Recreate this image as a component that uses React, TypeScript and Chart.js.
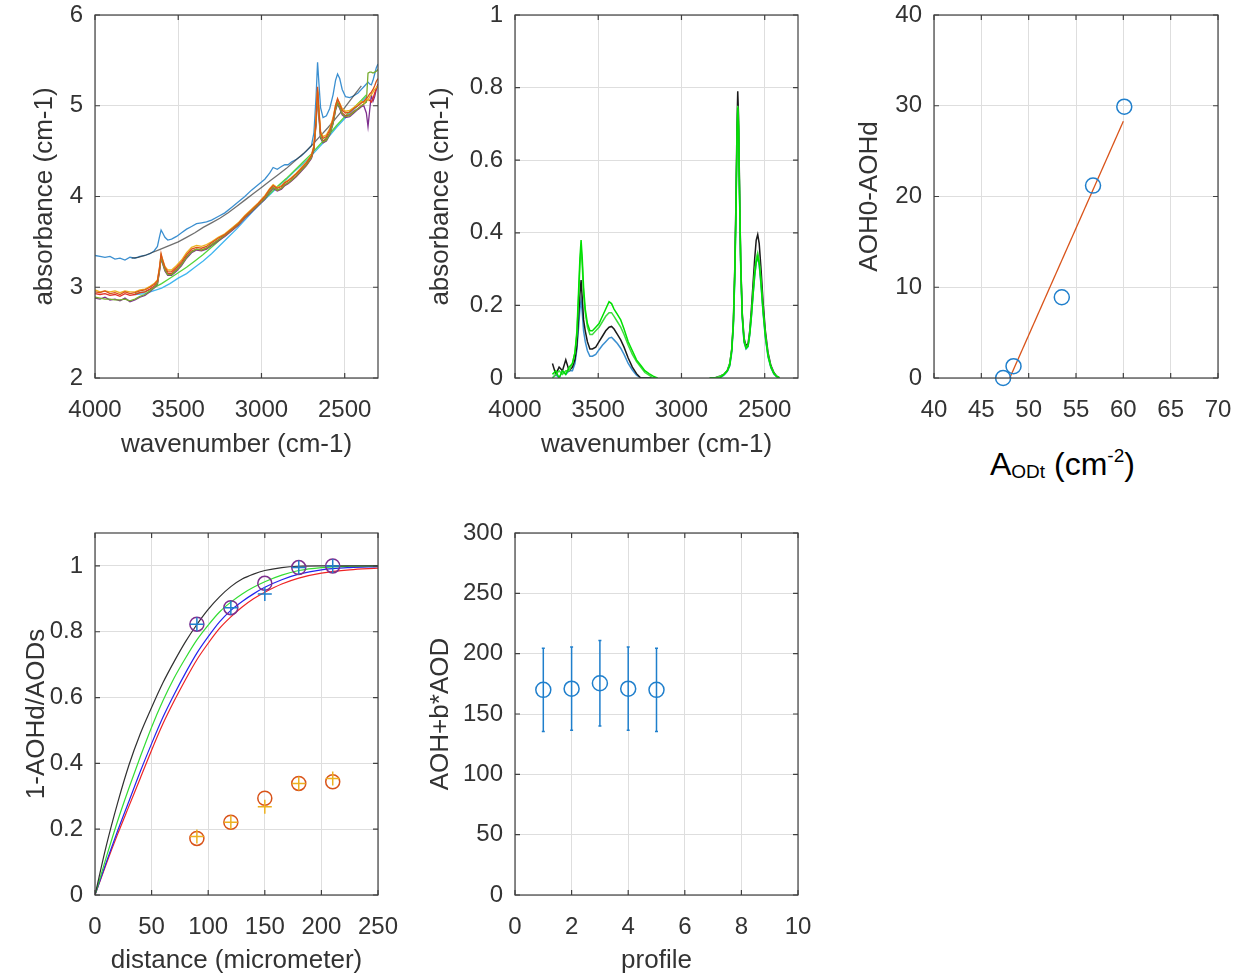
import React, { useEffect, useRef } from 'react';
import { Chart, registerables } from 'chart.js';

Chart.register(...registerables);

// ================= Panel 1: raw spectra =================
const wavenumbers = [4000, 3970, 3940, 3910, 3880, 3850, 3820, 3790, 3760, 3730,
  3700, 3670, 3645, 3625, 3612, 3603, 3594, 3580, 3563, 3540,
  3510, 3480, 3450, 3420, 3390, 3360, 3330, 3300, 3260, 3220,
  3180, 3140, 3100, 3060, 3020, 2980, 2950, 2930, 2905, 2880,
  2860, 2840, 2820, 2790, 2760, 2730, 2700, 2685, 2672, 2663,
  2655, 2645, 2630, 2610, 2590, 2570, 2555, 2543, 2530, 2515,
  2495, 2470, 2445, 2420, 2400, 2385, 2370, 2360, 2350, 2340,
  2330, 2320, 2310, 2300];

const absBlue = [3.35, 3.34, 3.33, 3.34, 3.31, 3.32, 3.30, 3.33, 3.32, 3.34,
  3.35, 3.37, 3.40, 3.45, 3.56, 3.63, 3.60, 3.55, 3.52, 3.53,
  3.56, 3.60, 3.64, 3.67, 3.70, 3.71, 3.72, 3.74, 3.78, 3.82,
  3.88, 3.94, 4.00, 4.07, 4.13, 4.19, 4.26, 4.32, 4.30, 4.33,
  4.35, 4.35, 4.38, 4.41, 4.45, 4.50, 4.56, 4.70, 5.10, 5.48,
  5.25, 4.98, 4.87, 4.89, 4.97, 5.12, 5.28, 5.35, 5.30, 5.18,
  5.10, 5.09, 5.11, 5.14, 5.18, 5.21, 5.24, 5.26, 5.24, 5.23,
  5.28, 5.35, 5.42, 5.46];

const absOrange = [2.95, 2.94, 2.96, 2.93, 2.94, 2.92, 2.95, 2.93, 2.94, 2.96,
  2.97, 3.00, 3.03, 3.07, 3.22, 3.37, 3.30, 3.22, 3.17, 3.17,
  3.22, 3.28, 3.36, 3.42, 3.44, 3.43, 3.45, 3.49, 3.54, 3.58,
  3.64, 3.70, 3.78, 3.85, 3.92, 4.00, 4.08, 4.12, 4.09, 4.11,
  4.15, 4.17, 4.20, 4.25, 4.31, 4.37, 4.45, 4.55, 4.85, 5.21,
  4.95, 4.70, 4.64, 4.66, 4.73, 4.85, 5.00, 5.08, 5.02, 4.95,
  4.92, 4.93, 4.97, 5.00, 5.03, 5.05, 5.08, 5.10, 5.13, 5.15,
  5.18, 5.22, 5.27, 5.30];

const absYellow = [2.97, 2.95, 2.96, 2.95, 2.96, 2.94, 2.96, 2.95, 2.95, 2.97,
  2.98, 3.01, 3.04, 3.08, 3.23, 3.36, 3.31, 3.23, 3.19, 3.19,
  3.24, 3.30, 3.38, 3.44, 3.46, 3.45, 3.47, 3.50, 3.55, 3.59,
  3.65, 3.71, 3.79, 3.86, 3.93, 4.01, 4.09, 4.13, 4.10, 4.12,
  4.16, 4.18, 4.21, 4.26, 4.32, 4.38, 4.46, 4.56, 4.88, 5.18,
  4.97, 4.72, 4.66, 4.68, 4.75, 4.87, 5.01, 5.07, 5.03, 4.97,
  4.94, 4.95, 4.98, 5.02, 5.05, 5.03, 5.08, 5.06, 5.10, 5.12,
  5.15, 5.18, 5.20, 5.22];

const absRed = [2.93, 2.92, 2.93, 2.91, 2.92, 2.90, 2.93, 2.91, 2.92, 2.94,
  2.95, 2.98, 3.01, 3.05, 3.20, 3.34, 3.28, 3.20, 3.15, 3.15,
  3.20, 3.26, 3.34, 3.40, 3.42, 3.41, 3.43, 3.47, 3.52, 3.57,
  3.63, 3.69, 3.77, 3.84, 3.91, 3.98, 4.06, 4.10, 4.07, 4.09,
  4.13, 4.15, 4.18, 4.23, 4.29, 4.35, 4.43, 4.53, 4.83, 5.16,
  4.92, 4.67, 4.61, 4.63, 4.70, 4.82, 4.97, 5.04, 4.99, 4.92,
  4.89, 4.90, 4.94, 4.97, 5.00, 5.02, 5.05, 5.07, 5.06, 5.04,
  5.08, 5.14, 5.19, 5.23];

const absPurple = [2.88, 2.87, 2.89, 2.86, 2.87, 2.85, 2.88, 2.84, 2.86, 2.89,
  2.91, 2.95, 2.99, 3.03, 3.18, 3.32, 3.26, 3.18, 3.13, 3.13,
  3.18, 3.24, 3.32, 3.38, 3.41, 3.40, 3.42, 3.46, 3.51, 3.56,
  3.62, 3.68, 3.76, 3.83, 3.90, 3.97, 4.05, 4.09, 4.06, 4.08,
  4.12, 4.14, 4.17, 4.22, 4.28, 4.34, 4.42, 4.52, 4.80, 5.12,
  4.88, 4.64, 4.59, 4.61, 4.68, 4.80, 4.95, 5.02, 4.97, 4.90,
  4.87, 4.88, 4.92, 4.96, 4.99, 5.00, 4.92, 4.77, 4.95, 5.12,
  5.05, 5.10, 5.18, 5.24];

const absOlive = [2.89, 2.88, 2.87, 2.87, 2.86, 2.86, 2.87, 2.85, 2.87, 2.90,
  2.92, 2.96, 3.00, 3.04, 3.19, 3.33, 3.27, 3.19, 3.14, 3.14,
  3.19, 3.25, 3.33, 3.39, 3.42, 3.41, 3.43, 3.47, 3.52, 3.57,
  3.63, 3.69, 3.77, 3.84, 3.91, 3.98, 4.06, 4.10, 4.07, 4.09,
  4.13, 4.15, 4.18, 4.23, 4.29, 4.35, 4.43, 4.53, 4.82, 5.15,
  4.90, 4.66, 4.60, 4.62, 4.69, 4.81, 4.96, 5.03, 4.98, 4.91,
  4.88, 4.89, 4.93, 4.97, 5.00, 5.02, 5.04, 5.36, 5.37, 5.37,
  5.36, 5.37, 5.38, 5.40];

const wnGrayBase = [3780, 3740, 3700, 3660, 3620, 3580, 3540, 3500, 3450, 3400,
  3350, 3300, 3250, 3200, 3150, 3100, 3050, 3000, 2950, 2900,
  2850, 2800, 2750, 2700, 2650, 2600, 2550, 2500, 2450, 2400];
const absGrayBase = [3.32, 3.33, 3.35, 3.38, 3.41, 3.44, 3.47, 3.50, 3.55, 3.60,
  3.66, 3.71, 3.76, 3.82, 3.89, 3.96, 4.03, 4.10, 4.17, 4.24,
  4.31, 4.39, 4.47, 4.56, 4.66, 4.76, 4.87, 4.98, 5.10, 5.22];

const wnBase = [3760, 3700, 3650, 3600, 3550, 3500, 3450, 3400, 3350, 3300,
  3250, 3200, 3150, 3100, 3050, 3000, 2950, 2900, 2850, 2800,
  2750, 2700, 2650, 2600, 2550, 2500, 2450, 2400, 2370];
const absBaseCyan = [2.92, 2.93, 2.96, 2.99, 3.04, 3.10, 3.15, 3.22, 3.29, 3.37,
  3.46, 3.55, 3.64, 3.74, 3.84, 3.93, 4.02, 4.11, 4.19, 4.28,
  4.36, 4.45, 4.55, 4.65, 4.76, 4.86, 4.95, 5.04, 5.10];
const absBaseGreen = [2.93, 2.95, 2.99, 3.04, 3.10, 3.16, 3.22, 3.29, 3.36, 3.44,
  3.52, 3.61, 3.69, 3.77, 3.85, 3.94, 4.03, 4.12, 4.20, 4.29,
  4.38, 4.47, 4.57, 4.67, 4.78, 4.88, 4.97, 5.06, 5.12];

const wnTicks = [4000, 3500, 3000, 2500];
const absTicks = [2, 3, 4, 5, 6];

// ================= Panel 2: baseline-corrected spectra =================
const wnDiffLeft = [3775, 3755, 3735, 3715, 3695, 3675, 3655, 3640, 3628, 3618,
  3610, 3603, 3596, 3588, 3578, 3565, 3550, 3535, 3515, 3495,
  3475, 3455, 3435, 3420, 3405, 3385, 3365, 3345, 3320, 3295,
  3270, 3245, 3220, 3195, 3170, 3145];
const wnDiffRight = [2830, 2800, 2770, 2745, 2725, 2710, 2698, 2688, 2680, 2673,
  2667, 2662, 2657, 2651, 2644, 2635, 2624, 2612, 2600, 2590,
  2580, 2570, 2560, 2551, 2542, 2533, 2522, 2510, 2496, 2480,
  2463, 2445, 2428, 2410];

const diffGreenL = [0.01, 0.02, 0.00, 0.02, 0.01, 0.03, 0.04, 0.07, 0.13, 0.24,
  0.33, 0.38, 0.33, 0.25, 0.19, 0.15, 0.13, 0.13, 0.14, 0.15,
  0.17, 0.19, 0.21, 0.205, 0.19, 0.175, 0.16, 0.135, 0.10, 0.075,
  0.05, 0.035, 0.02, 0.012, 0.005, 0.0];
const diffGreenR = [0.0, 0.0, 0.0, 0.01, 0.02, 0.035, 0.075, 0.15, 0.28, 0.45,
  0.64, 0.745, 0.69, 0.50, 0.31, 0.17, 0.10, 0.082, 0.088, 0.12,
  0.17, 0.23, 0.285, 0.32, 0.334, 0.315, 0.26, 0.185, 0.115, 0.06,
  0.03, 0.012, 0.004, 0.0];

const diffLimeL = [0.00, 0.01, 0.02, 0.01, 0.02, 0.02, 0.04, 0.07, 0.12, 0.22,
  0.31, 0.36, 0.31, 0.23, 0.18, 0.14, 0.12, 0.12, 0.13, 0.14,
  0.155, 0.17, 0.18, 0.18, 0.17, 0.155, 0.14, 0.12, 0.09, 0.065,
  0.045, 0.03, 0.015, 0.008, 0.0, 0.0];
const diffLimeR = [0.0, 0.0, 0.005, 0.01, 0.02, 0.04, 0.078, 0.155, 0.29, 0.46,
  0.65, 0.75, 0.70, 0.51, 0.315, 0.175, 0.105, 0.085, 0.09, 0.125,
  0.175, 0.24, 0.295, 0.33, 0.345, 0.325, 0.27, 0.19, 0.12, 0.065,
  0.032, 0.014, 0.005, 0.0];

const diffBlackL = [0.04, 0.01, 0.03, 0.02, 0.05, 0.02, 0.03, 0.05, 0.09, 0.17,
  0.23, 0.27, 0.22, 0.16, 0.13, 0.10, 0.08, 0.08, 0.085, 0.10,
  0.115, 0.13, 0.14, 0.142, 0.135, 0.12, 0.105, 0.085, 0.055, 0.03,
  0.012, 0.0, 0.0, 0.0, 0.0, 0.0];
const diffBlackR = [0.0, 0.0, 0.005, 0.01, 0.02, 0.04, 0.08, 0.16, 0.30, 0.48,
  0.68, 0.79, 0.72, 0.52, 0.32, 0.18, 0.11, 0.088, 0.095, 0.13,
  0.19, 0.26, 0.33, 0.38, 0.395, 0.37, 0.30, 0.21, 0.13, 0.07,
  0.035, 0.015, 0.005, 0.0];

const diffBlueL = [0.00, 0.01, 0.00, 0.02, 0.01, 0.02, 0.02, 0.04, 0.08, 0.14,
  0.19, 0.215, 0.18, 0.13, 0.10, 0.075, 0.06, 0.06, 0.065, 0.078,
  0.09, 0.10, 0.11, 0.112, 0.105, 0.095, 0.082, 0.065, 0.04, 0.022,
  0.008, 0.0, 0.0, 0.0, 0.0, 0.0];
const diffBlueR = [0.0, 0.0, 0.0, 0.008, 0.018, 0.033, 0.07, 0.145, 0.27, 0.44,
  0.63, 0.735, 0.68, 0.49, 0.30, 0.165, 0.098, 0.08, 0.086, 0.118,
  0.168, 0.228, 0.28, 0.318, 0.33, 0.31, 0.255, 0.18, 0.11, 0.058,
  0.028, 0.011, 0.003, 0.0];

const diffTicks = [0, 0.2, 0.4, 0.6, 0.8, 1];

// ================= Panel 3: linear fit =================
const aodt = [47.3, 48.4, 53.5, 56.8, 60.1];
const aohDiff = [0, 1.3, 8.9, 21.2, 29.9];
const fitAodt = [48.0, 60.0];
const fitAoh = [0, 28.3];
const aodtTicks = [40, 45, 50, 55, 60, 65, 70];
const aohDiffTicks = [0, 10, 20, 30, 40];

// ================= Panel 4: profiles vs distance =================
const distGrid = [0, 10, 20, 30, 40, 50, 60, 70, 80, 90, 100, 110, 120, 130, 140, 150, 165, 180, 200, 225, 250];
const fitBlack = [0, 0.15, 0.28, 0.395, 0.49, 0.57, 0.645, 0.71, 0.77, 0.822, 0.868, 0.906, 0.937, 0.96, 0.975, 0.986, 0.995, 0.999, 1.0, 1.0, 1.0];
const fitGreen = [0, 0.115, 0.225, 0.325, 0.42, 0.51, 0.59, 0.66, 0.72, 0.775, 0.82, 0.86, 0.89, 0.915, 0.935, 0.952, 0.972, 0.986, 0.995, 0.999, 1.0];
const fitBlue = [0, 0.1, 0.195, 0.285, 0.375, 0.46, 0.54, 0.61, 0.675, 0.735, 0.785, 0.83, 0.865, 0.892, 0.915, 0.935, 0.958, 0.975, 0.988, 0.995, 0.998];
const fitRed = [0, 0.095, 0.185, 0.27, 0.355, 0.44, 0.52, 0.59, 0.655, 0.715, 0.765, 0.81, 0.845, 0.875, 0.9, 0.92, 0.945, 0.963, 0.978, 0.988, 0.993];

const measDist = [90, 120, 150, 180, 210];
const purpleCircles = [0.823, 0.873, 0.947, 0.995, 1.0];
const blueCrosses = [0.823, 0.873, 0.915, 0.995, 1.0];
const orangeCircles = [0.172, 0.221, 0.294, 0.339, 0.344];
const yellowCrosses = [0.178, 0.221, 0.268, 0.339, 0.354];
const distTicks = [0, 50, 100, 150, 200, 250];
const ratioTicks = [0, 0.2, 0.4, 0.6, 0.8, 1];

// ================= Panel 5: per profile =================
const profileIdx = [1, 2, 3, 4, 5];
const profileMean = [170, 171, 175.5, 171, 170];
const profileErr = [34.5, 34.5, 35.5, 34.5, 34.5];
const profileTicks = [0, 2, 4, 6, 8, 10];
const sumTicks = [0, 50, 100, 150, 200, 250, 300];

// ================= styling =================
const FONT = "'Liberation Sans', Arial, Helvetica, sans-serif";
const TEXT_COLOR = '#333333';
const GRID_COLOR = '#dedede';
const BOX_COLOR = '#404040';
const TICK_SIZE = 24;
const TITLE_SIZE = 26;
const TITLE_LH = TITLE_SIZE * 1.2;
const M_BLUE = '#1f7fcc';
const M_ORANGE = '#D95319';
const M_YELLOW = '#EDB120';
const M_PURPLE = '#7E2F8E';

type Box = { left: number; top: number; width: number; height: number };
type Plot = { left: number; top: number; right: number; bottom: number };
type AxisSpec = { min: number; max: number; ticks: number[]; reverse?: boolean; title?: string; titleAt?: number };

function pts(xs: number[], ys: (number | null)[]) {
  const n = Math.min(xs.length, ys.length);
  const out: { x: number; y: number | null }[] = [];
  for (let i = 0; i < n; i++) out.push({ x: xs[i], y: ys[i] });
  return out;
}

function axis(spec: AxisSpec, isX: boolean, canvas: Box, plot: Plot) {
  const o: any = {
    type: 'linear',
    position: isX ? 'bottom' : 'left',
    min: spec.min,
    max: spec.max,
    reverse: !!spec.reverse,
    grid: { color: GRID_COLOR, lineWidth: 1, drawTicks: false, tickLength: 0 },
    border: { display: false },
    ticks: {
      autoSkip: false,
      maxRotation: 0,
      minRotation: 0,
      color: TEXT_COLOR,
      font: { family: FONT, size: TICK_SIZE },
      padding: isX ? 18 : 12,
      callback: (v: number) => String(Math.round(v * 1000) / 1000),
    },
    afterBuildTicks: (s: any) => {
      s.ticks = spec.ticks.map((v) => ({ value: v }));
    },
    afterFit: (s: any) => {
      if (isX) s.height = canvas.top + canvas.height - plot.bottom;
      else s.width = plot.left - canvas.left;
      s.paddingTop = 0;
      s.paddingBottom = 0;
      s.paddingLeft = 0;
      s.paddingRight = 0;
    },
  };
  if (spec.title) {
    const pad = isX
      ? canvas.top + canvas.height - TITLE_LH / 2 - (spec.titleAt as number)
      : (spec.titleAt as number) - canvas.left - TITLE_LH / 2;
    o.title = {
      display: true,
      text: spec.title,
      color: TEXT_COLOR,
      font: { family: FONT, size: TITLE_SIZE, lineHeight: 1.2 },
      padding: isX ? { top: 0, bottom: pad } : { top: pad, bottom: 0 },
    };
  }
  return o;
}

const boxPlugin = {
  id: 'matlabBox',
  afterDatasetsDraw(chart: any) {
    const { ctx, chartArea, scales } = chart;
    const { left, right, top, bottom } = chartArea;
    ctx.save();
    ctx.strokeStyle = BOX_COLOR;
    ctx.lineWidth = 1.2;
    ctx.strokeRect(left, top, right - left, bottom - top);
    const L = 5;
    ctx.beginPath();
    scales.x.ticks.forEach((t: any) => {
      const px = scales.x.getPixelForValue(t.value);
      ctx.moveTo(px, bottom);
      ctx.lineTo(px, bottom - L);
      ctx.moveTo(px, top);
      ctx.lineTo(px, top + L);
    });
    scales.y.ticks.forEach((t: any) => {
      const py = scales.y.getPixelForValue(t.value);
      ctx.moveTo(left, py);
      ctx.lineTo(left + L, py);
      ctx.moveTo(right, py);
      ctx.lineTo(right - L, py);
    });
    ctx.stroke();
    ctx.restore();
  },
};

const errorBarPlugin = {
  id: 'errorBars',
  beforeDatasetsDraw(chart: any) {
    const { ctx, scales } = chart;
    ctx.save();
    ctx.strokeStyle = M_BLUE;
    ctx.lineWidth = 1.5;
    ctx.beginPath();
    profileIdx.forEach((p, i) => {
      const px = scales.x.getPixelForValue(p);
      const top = scales.y.getPixelForValue(profileMean[i] + profileErr[i]);
      const bot = scales.y.getPixelForValue(profileMean[i] - profileErr[i]);
      ctx.moveTo(px, top);
      ctx.lineTo(px, bot);
      ctx.moveTo(px - 1.5, top);
      ctx.lineTo(px + 1.5, top);
      ctx.moveTo(px - 1.5, bot);
      ctx.lineTo(px + 1.5, bot);
    });
    ctx.stroke();
    ctx.restore();
  },
};

function lineDs(data: any[], color: string, width = 1.3, extra: any = {}) {
  return {
    data,
    showLine: true,
    borderColor: color,
    backgroundColor: color,
    borderWidth: width,
    pointRadius: 0,
    tension: 0,
    spanGaps: false,
    ...extra,
  };
}

function markerDs(data: any[], color: string, style: string, radius = 7) {
  return {
    data,
    showLine: false,
    pointStyle: style,
    pointRadius: radius,
    pointBorderColor: color,
    pointBackgroundColor: 'rgba(0,0,0,0)',
    pointBorderWidth: 1.5,
    borderColor: color,
    backgroundColor: 'rgba(0,0,0,0)',
    clip: false,
  };
}

function makeConfig(canvas: Box, plot: Plot, x: AxisSpec, y: AxisSpec, datasets: any[], extraPlugins: any[] = []) {
  return {
    type: 'scatter',
    data: { datasets },
    options: {
      animation: false,
      responsive: false,
      devicePixelRatio: 1,
      events: [],
      layout: {
        padding: {
          left: 0,
          bottom: 0,
          top: plot.top - canvas.top,
          right: canvas.left + canvas.width - plot.right,
        },
      },
      plugins: { legend: { display: false }, tooltip: { enabled: false }, title: { display: false } },
      scales: { x: axis(x, true, canvas, plot), y: axis(y, false, canvas, plot) },
    },
    plugins: [boxPlugin, ...extraPlugins],
  };
}

function joinGap(xl: number[], yl: number[], xr: number[], yr: number[]) {
  return [...pts(xl, yl), { x: 3000, y: null }, ...pts(xr, yr)];
}

type PanelDef = { canvas: Box; build: () => any };

const PANELS: PanelDef[] = [
  {
    canvas: { left: 0, top: 0, width: 400, height: 480 },
    build() {
      const c = this.canvas;
      const p = { left: 95, top: 15, right: 378, bottom: 378 };
      return makeConfig(c, p,
        { min: 2300, max: 4000, ticks: wnTicks, reverse: true, title: 'wavenumber (cm-1)', titleAt: 445 },
        { min: 2, max: 6, ticks: absTicks, title: 'absorbance (cm-1)', titleAt: 45 },
        [
          lineDs(pts(wavenumbers, absOrange), M_ORANGE),
          lineDs(pts(wavenumbers, absYellow), M_YELLOW),
          lineDs(pts(wavenumbers, absOlive), '#77AC30'),
          lineDs(pts(wavenumbers, absRed), '#E0302A'),
          lineDs(pts(wavenumbers, absPurple), M_PURPLE),
          lineDs(pts(wnGrayBase, absGrayBase), 'rgba(50,50,50,0.7)'),
          lineDs(pts(wavenumbers, absBlue), '#3b8fd0'),
          lineDs(pts(wnBase, absBaseGreen), '#55d43a'),
          lineDs(pts(wnBase, absBaseCyan), '#3fb6f0'),
        ]);
    },
  },
  {
    canvas: { left: 420, top: 0, width: 400, height: 480 },
    build() {
      const c = this.canvas;
      const p = { left: 515, top: 15, right: 798, bottom: 378 };
      return makeConfig(c, p,
        { min: 2300, max: 4000, ticks: wnTicks, reverse: true, title: 'wavenumber (cm-1)', titleAt: 445 },
        { min: 0, max: 1, ticks: diffTicks, title: 'absorbance (cm-1)', titleAt: 441 },
        [
          lineDs(joinGap(wnDiffLeft, diffGreenL, wnDiffRight, diffGreenR), '#00e000', 1.5),
          lineDs(joinGap(wnDiffLeft, diffLimeL, wnDiffRight, diffLimeR), '#3ddc3d', 1.5),
          lineDs(joinGap(wnDiffLeft, diffBlackL, wnDiffRight, diffBlackR), '#1a1a1a', 1.5),
          lineDs(joinGap(wnDiffLeft, diffBlueL, wnDiffRight, diffBlueR), '#3b8fd0', 1.5),
        ]);
    },
  },
  {
    canvas: { left: 830, top: 0, width: 414, height: 440 },
    build() {
      const c = this.canvas;
      const p = { left: 934, top: 15, right: 1218, bottom: 378 };
      return makeConfig(c, p,
        { min: 40, max: 70, ticks: aodtTicks },
        { min: 0, max: 40, ticks: aohDiffTicks, title: 'AOH0-AOHd', titleAt: 870 },
        [
          markerDs(pts(aodt, aohDiff), M_BLUE, 'circle', 7.5),
          lineDs(pts(fitAodt, fitAoh), M_ORANGE, 1.3),
        ]);
    },
  },
  {
    canvas: { left: 0, top: 500, width: 410, height: 478 },
    build() {
      const c = this.canvas;
      const p = { left: 95, top: 533, right: 378, bottom: 895 };
      const smooth = { cubicInterpolationMode: 'monotone' };
      return makeConfig(c, p,
        { min: 0, max: 250, ticks: distTicks, title: 'distance (micrometer)', titleAt: 961 },
        { min: 0, max: 1.1, ticks: ratioTicks, title: '1-AOHd/AODs', titleAt: 37 },
        [
          markerDs(pts(measDist, blueCrosses), M_BLUE, 'cross', 7),
          markerDs(pts(measDist, purpleCircles), M_PURPLE, 'circle', 7),
          markerDs(pts(measDist, yellowCrosses), M_YELLOW, 'cross', 7),
          markerDs(pts(measDist, orangeCircles), M_ORANGE, 'circle', 7),
          lineDs(pts(distGrid, fitBlack), '#303030', 1.2, smooth),
          lineDs(pts(distGrid, fitGreen), '#33dd33', 1.2, smooth),
          lineDs(pts(distGrid, fitBlue), '#2424ee', 1.2, smooth),
          lineDs(pts(distGrid, fitRed), '#ee2424', 1.2, smooth),
        ]);
    },
  },
  {
    canvas: { left: 420, top: 500, width: 400, height: 478 },
    build() {
      const c = this.canvas;
      const p = { left: 515, top: 533, right: 798, bottom: 895 };
      return makeConfig(c, p,
        { min: 0, max: 10, ticks: profileTicks, title: 'profile', titleAt: 961 },
        { min: 0, max: 300, ticks: sumTicks, title: 'AOH+b*AOD', titleAt: 441 },
        [markerDs(pts(profileIdx, profileMean), M_BLUE, 'circle', 7.5)],
        [errorBarPlugin]);
    },
  },
];

function Panel({ def }: { def: PanelDef }) {
  const ref = useRef<HTMLCanvasElement | null>(null);
  useEffect(() => {
    if (!ref.current) return;
    const chart = new Chart(ref.current, def.build() as any);
    return () => chart.destroy();
  }, [def]);
  const c = def.canvas;
  return (
    <canvas
      ref={ref}
      width={c.width}
      height={c.height}
      style={{ position: 'absolute', left: c.left, top: c.top, width: c.width, height: c.height }}
    />
  );
}

export default function App() {
  return (
    <div style={{ position: 'absolute', left: 0, top: 0, width: 1244, height: 978, background: '#ffffff', overflow: 'hidden' }}>
      {PANELS.map((d, i) => (
        <Panel key={i} def={d} />
      ))}
      <div
        style={{
          position: 'absolute',
          left: 990,
          top: 444,
          fontFamily: "'Liberation Sans', Arial, sans-serif",
          fontSize: 32,
          lineHeight: '40px',
          color: '#000000',
          whiteSpace: 'nowrap',
        }}
      >
        A<span style={{ fontSize: 19, verticalAlign: -3, lineHeight: 0 }}>ODt</span> (cm
        <span style={{ fontSize: 19, verticalAlign: 13, lineHeight: 0 }}>-2</span>)
      </div>
    </div>
  );
}
